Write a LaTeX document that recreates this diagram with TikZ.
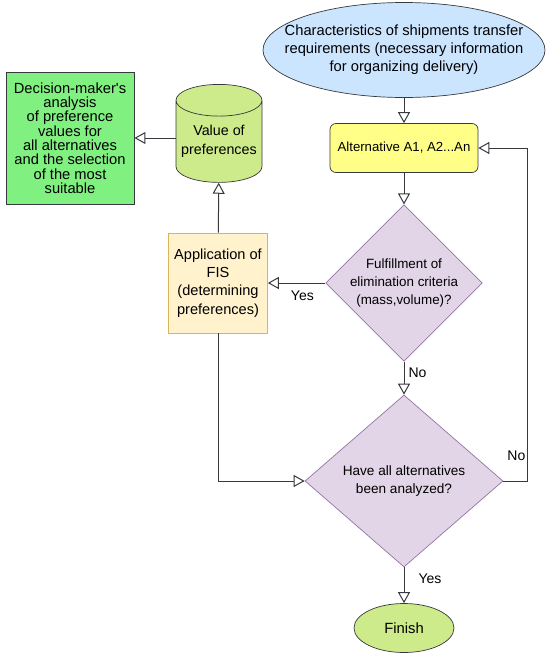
\documentclass[tikz,border=0pt]{standalone}
\usepackage{fontspec}
\setmainfont{Liberation Sans}
\definecolor{inputBlue}{RGB}{204,229,255}
\definecolor{altYellow}{RGB}{255,255,136}
\definecolor{fisFill}{RGB}{255,242,204}
\definecolor{fisLine}{RGB}{214,182,86}
\definecolor{checkFill}{RGB}{225,213,231}
\definecolor{checkLine}{RGB}{150,115,166}
\definecolor{limeFill}{RGB}{205,235,139}
\definecolor{decisionGreen}{RGB}{128,240,128}
\definecolor{edgeGray}{RGB}{54,57,61}
\usepackage{tikz}
\usetikzlibrary{shapes.geometric,arrows.meta,positioning}

\begin{document}
\begin{tikzpicture}[x=1pt, y=-1pt,
  every node/.style={font=\fontsize{14.5}{18}\selectfont, align=center, inner sep=0pt},
  flow/.style={draw=edgeGray, line width=1pt, -{Triangle[open, length=11pt, width=12pt]}},
  question/.style={diamond, draw=checkLine, fill=checkFill, line width=0.7pt},
  lbl/.style={font=\fontsize{14}{16}\selectfont}]
  \useasboundingbox (0,0) rectangle (550,659);

  \node[ellipse, draw=edgeGray, fill=inputBlue, line width=0.7pt, minimum width=282pt, minimum height=95pt,
    inner xsep=-21pt, font=\fontsize{14.7}{18}\selectfont]
    (input) at (404,50) {Characteristics of shipments transfer\\requirements (necessary information\\for organizing delivery)};

  \node[draw=edgeGray, fill=altYellow, rounded corners=6pt, line width=0.7pt, minimum width=148pt, minimum height=49pt,
    font=\fontsize{13.2}{16}\selectfont]
    (alt) at (404,148) {Alternative A1, A2...An};

  \node[question, minimum width=148pt, minimum height=147pt, font=\fontsize{13.4}{18}\selectfont]
    (elim) at (404,283) {Fulfillment of\\elimination criteria\\(mass,volume)?};

  \node[question, minimum width=198pt, minimum height=172pt, font=\fontsize{13.6}{17.5}\selectfont]
    (done) at (404,481) {Have all alternatives\\been analyzed?};

  \node[ellipse, draw=edgeGray, fill=limeFill, line width=0.7pt, minimum width=100pt, minimum height=49pt,
    font=\fontsize{14.8}{16}\selectfont]
    (finish) at (404,628) {Finish};

  \node[draw=fisLine, fill=fisFill, line width=0.7pt, minimum width=99pt, minimum height=100pt,
    font=\fontsize{14.6}{18.3}\selectfont]
    (fis) at (218,283) {Application of\\FIS\\(determining\\preferences)};

  \node[cylinder, shape border rotate=90, aspect=0.42, draw=edgeGray, fill=limeFill, line width=0.7pt,
    minimum width=86pt, minimum height=98pt, font=\fontsize{14.3}{19}\selectfont]
    (pref) at (219,141.5) {Value of\\preferences};

  \node[draw=edgeGray, fill=decisionGreen, line width=0.9pt, minimum width=128pt, minimum height=132pt,
    font=\fontsize{14.7}{14.3}\selectfont]
    (select) at (70,138) {Decision-maker\textquotesingle s\\analysis\\of preference\\values for\\all alternatives\\and the selection\\of the most\\suitable};

  \coordinate (loopR) at (527,481);

  \draw[flow] (input) -- (alt);
  \draw[flow] (alt) -- (elim);
  \draw[flow] (elim) -- node[lbl, right=4pt, pos=0.34] {No} (done);
  \draw[flow] (elim) -- node[lbl, below=7pt, pos=0.4] {Yes} (fis);
  \draw[flow] (fis) -- (pref);
  \draw[flow] (select.east -| pref.west) -- (select);
  \draw[flow] (fis.south) |- (done.west);
  \draw[flow] (done.east) -- node[lbl, above=20pt, pos=0.55] {No} (loopR) |- (alt.east);
  \draw[flow] (done) -- node[lbl, right=14pt, pos=0.32] {Yes} (finish);
\end{tikzpicture}
\end{document}
